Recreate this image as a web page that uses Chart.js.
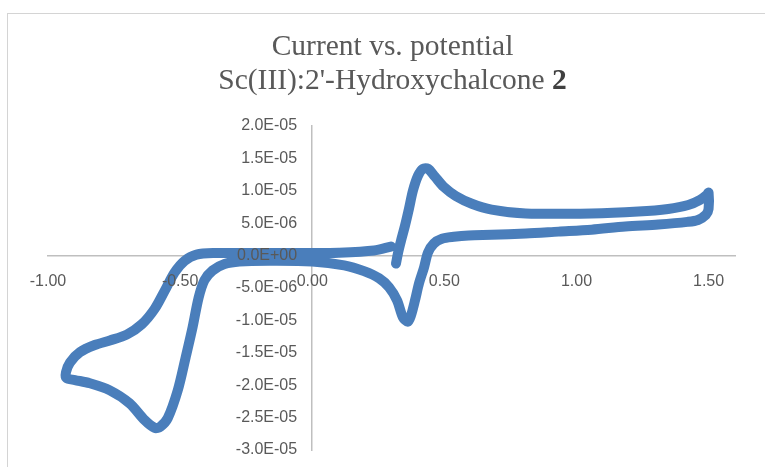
<!DOCTYPE html>
<html>
<head>
<meta charset="utf-8">
<script src="https://cdn.jsdelivr.net/npm/chart.js@4"></script>
<style>
  body { margin: 0; width: 765px; height: 467px; overflow: hidden; background: #fff; position: relative; }
  #frame { position: absolute; left: 7px; top: 13px; width: 800px; height: 500px;
           border-left: 1px solid #d4d4d4; border-top: 1px solid #d4d4d4; pointer-events: none; }
  #title { position: absolute; left: 0; top: 28px; width: 785px; text-align: center;
           font-family: "Liberation Serif", "Times New Roman", serif; font-size: 29.5px;
           line-height: 34px; color: #595959; }
  #title b { color: #404040; }
  canvas { position: absolute; left: 0; top: 0; }
</style>
</head>
<body>
<div id="frame"></div>
<canvas id="myChart" width="765" height="467"></canvas>
<div id="title">Current vs. potential<br>Sc(III):2'-Hydroxychalcone <b>2</b></div>
<script>
// potential (V) and current (A), in scan order
const potential = [
  0.317, 0.325, 0.336, 0.351, 0.366, 0.381, 0.400, 0.419, 0.438, 0.464,
  0.498, 0.543, 0.604, 0.679, 0.808, 1.057, 1.234, 1.347, 1.423, 1.468,
  1.494, 1.500,
  1.500, 1.490, 1.460, 1.420, 1.310, 1.185, 1.057, 0.932, 0.808, 0.679,
  0.592, 0.536, 0.491, 0.460, 0.438, 0.423, 0.404, 0.389, 0.374, 0.362,
  0.343, 0.321, 0.291, 0.253, 0.196, 0.121, 0.000, -0.162, -0.275, -0.332,
  -0.377, -0.408, -0.430, -0.453, -0.479, -0.509, -0.547, -0.575, -0.596, -0.634,
  -0.691, -0.766, -0.842, -0.898, -0.930,
  -0.932, -0.917, -0.879, -0.823, -0.766, -0.702, -0.645, -0.596, -0.558, -0.521,
  -0.483, -0.438, -0.370, -0.238, 0.000, 0.100, 0.234, 0.298
];
const current = [
  -1.23e-6, 0.46e-6, 2.3e-6, 4.6e-6, 7.2e-6, 10.0e-6, 12.3e-6, 13.4e-6, 13.4e-6, 12.2e-6,
  10.6e-6, 9.2e-6, 8.0e-6, 7.1e-6, 6.5e-6, 6.5e-6, 6.8e-6, 7.2e-6, 7.8e-6, 8.6e-6,
  9.4e-6, 9.7e-6,
  7.2e-6, 6.3e-6, 5.5e-6, 5.2e-6, 4.8e-6, 4.5e-6, 4.0e-6, 3.7e-6, 3.4e-6, 3.2e-6,
  3.1e-6, 2.9e-6, 2.6e-6, 1.85e-6, 0.46e-6, -1.85e-6, -4.3e-6, -6.9e-6, -9.2e-6, -10.2e-6,
  -9.5e-6, -6.9e-6, -4.9e-6, -3.5e-6, -2.4e-6, -1.5e-6, -0.9e-6, -0.8e-6, -0.9e-6, -1.3e-6,
  -2.3e-6, -3.8e-6, -6.5e-6, -11.1e-6, -15.7e-6, -20.8e-6, -25.1e-6, -26.4e-6, -26.6e-6, -25.4e-6,
  -22.8e-6, -20.8e-6, -19.7e-6, -19.2e-6, -18.9e-6,
  -18.0e-6, -16.5e-6, -14.9e-6, -13.8e-6, -13.1e-6, -12.2e-6, -10.6e-6, -8.2e-6, -5.4e-6, -2.6e-6,
  -0.8e-6, 0.15e-6, 0.4e-6, 0.4e-6, 0.4e-6, 0.45e-6, 0.8e-6, 1.4e-6
];

const xTicks = [-1.0, -0.5, 0.0, 0.5, 1.0, 1.5];
const yTicks = [-3.0e-5, -2.5e-5, -2.0e-5, -1.5e-5, -1.0e-5, -5.0e-6, 0, 5.0e-6, 1.0e-5, 1.5e-5, 2.0e-5];

function sci(v) {
    if (v === 0) return '0.0E+00';
    let parts = v.toExponential(1).split('e');
    let e = parseInt(parts[1]);
    return parts[0] + 'E' + (e < 0 ? '-' : '+') + String(Math.abs(e)).padStart(2, '0');
}

const points = potential.map((p, i) => ({x: p, y: current[i]}));
const labelFont = {family: '"Liberation Sans", Arial, sans-serif', size: 16};
const axisColor = '#bfbfbf';
const noSpaceX = s => { s.height = 0; };
const noSpaceY = s => { s.width = 0; };

const ctx = document.getElementById('myChart').getContext('2d');
new Chart(ctx, {
    type: 'scatter',
    data: {
        datasets: [{
            data: points,
            xAxisID: 'x',
            yAxisID: 'y',
            showLine: true,
            borderColor: '#4A7EBB',
            borderWidth: 10,
            borderCapStyle: 'round',
            borderJoinStyle: 'round',
            tension: 0.3,
            pointRadius: 0
        }]
    },
    options: {
        responsive: false,
        animation: false,
        devicePixelRatio: 1,
        layout: { padding: {left: 48, right: 30, top: 126, bottom: 17} },
        plugins: { legend: {display: false}, tooltip: {enabled: false}, title: {display: false} },
        scales: {
            x: {
                type: 'linear',
                position: {y: 0},
                min: -1, max: 1.6,
                afterFit: noSpaceX,
                grid: {display: false, drawTicks: false},
                border: {display: true, color: axisColor, width: 1.5},
                ticks: {display: false}
            },
            y: {
                type: 'linear',
                position: {x: 0},
                min: -3.0e-5, max: 2.0e-5,
                afterFit: noSpaceY,
                grid: {display: false, drawTicks: false},
                border: {display: true, color: axisColor, width: 1.5},
                ticks: {display: false}
            },
            // label-only axes, shifted a little off the axis lines
            xLabels: {
                type: 'linear',
                axis: 'x',
                position: {y: -0.77e-6},
                min: -1, max: 1.6,
                afterFit: noSpaceX,
                afterBuildTicks: scale => { scale.ticks = xTicks.map(v => ({value: v})); },
                grid: {display: false, drawTicks: false},
                border: {display: false},
                ticks: {z: 1, padding: 11, color: '#595959', font: labelFont, maxRotation: 0,
                        autoSkip: false, callback: v => v.toFixed(2)}
            },
            yLabels: {
                type: 'linear',
                axis: 'y',
                position: {x: -0.057},
                min: -3.0e-5, max: 2.0e-5,
                afterFit: noSpaceY,
                afterBuildTicks: scale => { scale.ticks = yTicks.map(v => ({value: v})); },
                grid: {display: false, drawTicks: false},
                border: {display: false},
                ticks: {z: 1, padding: 0, color: '#595959', font: labelFont,
                        autoSkip: false, callback: v => sci(v)}
            }
        }
    }
});
</script>
</body>
</html>
